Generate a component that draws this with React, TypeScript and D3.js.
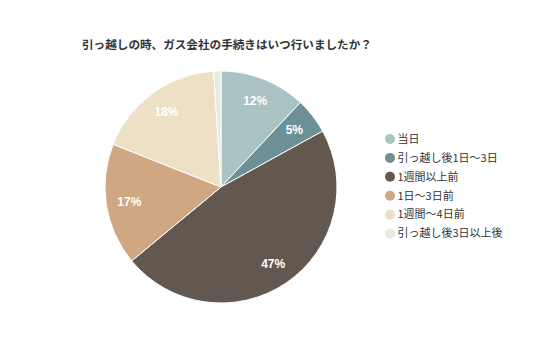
import React from "react";
import * as d3 from "d3";

const title = "引っ越しの時、ガス会社の手続きはいつ行いましたか？";
const categories = ["当日", "引っ越し後1日～3日", "1週間以上前", "1日～3日前", "1週間～4日前", "引っ越し後3日以上後"];
const values = [12, 5, 47, 17, 18, 1];
const colors = ["#a9c3c3", "#6d9097", "#635850", "#cfa782", "#ede0c5", "#e7eadf"];

export default function App() {
  const W = 536, H = 357;
  const cx = 221, cy = 187, r = 116;
  const pie = d3.pie<number>().sort(null).value((d) => d);
  const arcs = pie(values);
  const arc = d3.arc<d3.PieArcDatum<number>>().innerRadius(0).outerRadius(r);
  const labelArc = d3.arc<d3.PieArcDatum<number>>().innerRadius(r * 0.8).outerRadius(r * 0.8);
  const total = d3.sum(values);
  const legendY = d3.scaleLinear().domain([0, 1]).range([139, 157.9]);
  return (
    <svg width={W} height={H} style={{ position: "absolute", left: 0, top: 0, fontFamily: "'Noto Sans CJK JP', 'Noto Sans', sans-serif" }}>
      <rect width={W} height={H} fill="#ffffff" />
      <text x={82} y={49} fontSize={11.6} fontWeight="bold" fill="#333">{title}</text>
      <g transform={`translate(${cx},${cy})`}>
        {arcs.map((a, i) => (
          <path key={i} d={arc(a) || ""} fill={colors[i]} stroke="#fff" strokeWidth={1} />
        ))}
        {arcs.map((a, i) => {
          const pct = Math.round((values[i] / total) * 100);
          if (pct < 3) return null;
          const [x, y] = labelArc.centroid(a);
          return (
            <text key={i} x={x} y={y} dy="0.35em" textAnchor="middle" fontSize={12} fontWeight="bold" fill="#fff" fontFamily="Arial, 'Liberation Sans', sans-serif">
              {pct}%
            </text>
          );
        })}
      </g>
      <g>
        {categories.map((c, i) => (
          <g key={i} transform={`translate(390,${legendY(i)})`}>
            <circle r={5} fill={colors[i]} />
            <text x={7.5} dy="0.35em" fontSize={11} fill="#333">{c}</text>
          </g>
        ))}
      </g>
    </svg>
  );
}
